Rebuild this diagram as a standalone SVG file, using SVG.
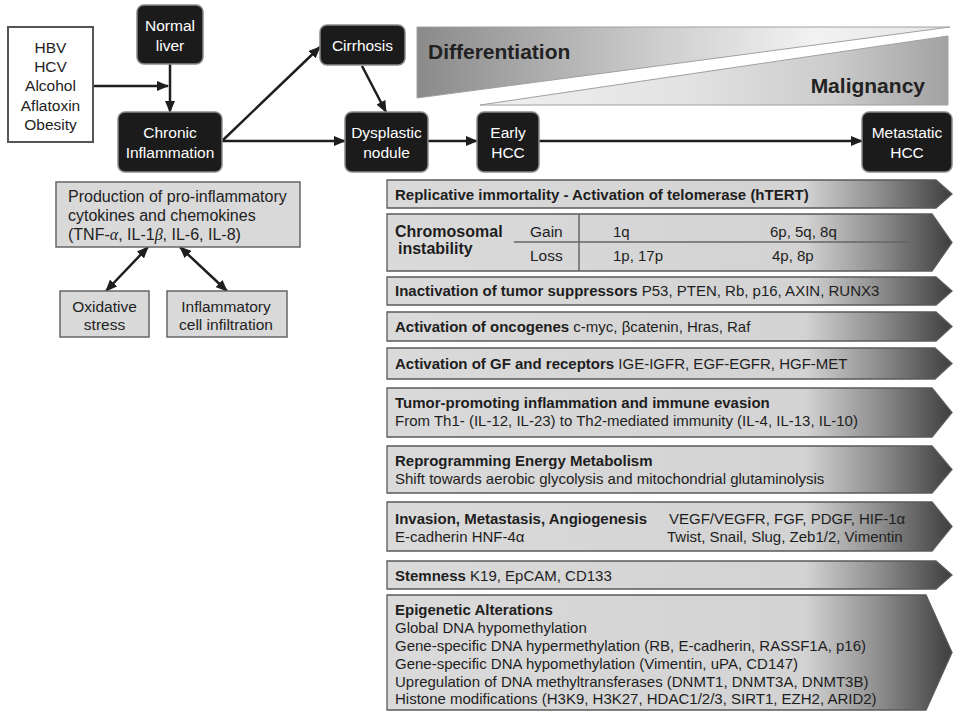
<svg xmlns="http://www.w3.org/2000/svg" width="954" height="713" viewBox="0 0 954 713">
<defs>
<style>
.t{font-family:"Liberation Sans",Arial,sans-serif;}
.node rect.dk{fill:#1b1b1b;stroke:#8a8a8a;stroke-width:1.5;}
.wt{fill:#ffffff;font-size:15.5px;text-anchor:middle;}
.lt{fill:#222;font-size:15.5px;}
.gb{fill:#d9d9d9;stroke:#666;stroke-width:1.5;}
.bar{fill:url(#barg);stroke:#5a5a5a;stroke-width:1.3;}
.bt{fill:#1e1e1e;font-size:15px;}
.b{font-weight:bold;}
.conn line{stroke:#1e1e1e;stroke-width:2.5;fill:none;}
</style>
<marker id="ah" viewBox="0 0 12 10" refX="11" refY="5" markerWidth="12" markerHeight="10" markerUnits="userSpaceOnUse" orient="auto-start-reverse">
<path d="M0,0 L12,5 L0,10 z" fill="#1e1e1e"/>
</marker>
<linearGradient id="barg" gradientUnits="userSpaceOnUse" x1="387" y1="0" x2="952" y2="0">
<stop offset="0" stop-color="#dadada"/>
<stop offset="0.74" stop-color="#d3d3d3"/>
<stop offset="0.87" stop-color="#8e8e8e"/>
<stop offset="1" stop-color="#3e3e3e"/>
</linearGradient>
<linearGradient id="difg" gradientUnits="userSpaceOnUse" x1="417" y1="0" x2="948" y2="0">
<stop offset="0" stop-color="#8a8a8a"/>
<stop offset="0.45" stop-color="#cdcdcd"/>
<stop offset="0.75" stop-color="#f2f2f2"/>
<stop offset="1" stop-color="#e6e6e6"/>
</linearGradient>
<linearGradient id="malg" gradientUnits="userSpaceOnUse" x1="480" y1="0" x2="948" y2="0">
<stop offset="0" stop-color="#f0f0f0"/>
<stop offset="0.45" stop-color="#e2e2e2"/>
<stop offset="0.75" stop-color="#cccccc"/>
<stop offset="1" stop-color="#a2a2a2"/>
</linearGradient>
</defs>
<rect width="954" height="713" fill="#ffffff"/>

<g id="gradients">
<polygon points="417,27 950,27 417,98" fill="url(#difg)" stroke="#a0a0a0" stroke-width="1"/>
<polygon points="480,105 948,36 948,105" fill="url(#malg)" stroke="#a0a0a0" stroke-width="1"/>
<text class="t" x="428" y="59" font-size="21" font-weight="bold" fill="#222">Differentiation</text>
<text class="t" x="925" y="93" font-size="21" font-weight="bold" fill="#222" text-anchor="end">Malignancy</text>
</g>

<g class="conn" id="connectors">
<line x1="94" y1="86" x2="168" y2="86" marker-end="url(#ah)"/>
<line x1="170" y1="64" x2="170" y2="112" marker-end="url(#ah)"/>
<line x1="222" y1="141" x2="320" y2="47" marker-end="url(#ah)"/>
<line x1="222" y1="141" x2="345" y2="141" marker-end="url(#ah)"/>
<line x1="362" y1="66" x2="386" y2="112" marker-end="url(#ah)"/>
<line x1="428" y1="141" x2="477" y2="141" marker-end="url(#ah)"/>
<line x1="539" y1="141" x2="862" y2="141" marker-end="url(#ah)"/>
<line x1="148" y1="247" x2="106" y2="291" marker-start="url(#ah)" marker-end="url(#ah)"/>
<line x1="180" y1="247" x2="227" y2="291" marker-start="url(#ah)" marker-end="url(#ah)"/>
</g>

<g id="causes" class="node">
<rect x="8" y="27" width="85" height="115" fill="#fff" stroke="#555" stroke-width="2"/>
<text class="t lt" text-anchor="middle"><tspan x="50.5" y="53">HBV</tspan><tspan x="50.5" y="72">HCV</tspan><tspan x="50.5" y="91">Alcohol</tspan><tspan x="50.5" y="111">Aflatoxin</tspan><tspan x="50.5" y="130">Obesity</tspan></text>
</g>
<g id="normal-liver" class="node">
<rect class="dk" x="137" y="5" width="66" height="59" rx="7"/>
<text class="t wt"><tspan x="170" y="31">Normal</tspan><tspan x="170" y="51">liver</tspan></text>
</g>
<g id="chronic-inflammation" class="node">
<rect class="dk" x="118" y="112" width="104" height="60" rx="7"/>
<text class="t wt"><tspan x="170" y="138">Chronic</tspan><tspan x="170" y="158">Inflammation</tspan></text>
</g>
<g id="cirrhosis" class="node">
<rect class="dk" x="320" y="25" width="85" height="40" rx="7"/>
<text class="t wt" x="362.5" y="51">Cirrhosis</text>
</g>
<g id="dysplastic-nodule" class="node">
<rect class="dk" x="345" y="112" width="83" height="60" rx="7"/>
<text class="t wt"><tspan x="386.5" y="138">Dysplastic</tspan><tspan x="386.5" y="158">nodule</tspan></text>
</g>
<g id="early-hcc" class="node">
<rect class="dk" x="477" y="112" width="62" height="60" rx="7"/>
<text class="t wt"><tspan x="508" y="138">Early</tspan><tspan x="508" y="158">HCC</tspan></text>
</g>
<g id="metastatic-hcc" class="node">
<rect class="dk" x="862" y="112" width="90" height="60" rx="7"/>
<text class="t wt"><tspan x="907" y="138">Metastatic</tspan><tspan x="907" y="158">HCC</tspan></text>
</g>

<g id="production" class="node">
<rect class="gb" x="56" y="182" width="244" height="65"/>
<text class="t" font-size="16" fill="#222"><tspan x="68" y="202">Production of pro-inflammatory</tspan><tspan x="68" y="221">cytokines and chemokines</tspan><tspan x="68" y="240">(TNF-<tspan font-family="'Liberation Serif',serif" font-style="italic">α</tspan>, IL-1<tspan font-family="'Liberation Serif',serif" font-style="italic">β</tspan>, IL-6, IL-8)</tspan></text>
</g>
<g id="oxidative-stress" class="node">
<rect class="gb" x="60" y="291" width="89" height="46"/>
<text class="t lt" text-anchor="middle"><tspan x="104.5" y="312">Oxidative</tspan><tspan x="104.5" y="330">stress</tspan></text>
</g>
<g id="inflammatory-infiltration" class="node">
<rect class="gb" x="167" y="291" width="120" height="46"/>
<text class="t lt" text-anchor="middle"><tspan x="226" y="312">Inflammatory</tspan><tspan x="226" y="330">cell infiltration</tspan></text>
</g>

<g id="bar-replicative">
<polygon class="bar" points="387,180 936,180 952,194 936,208 387,208"/>
<text class="t bt b" x="395" y="200">Replicative immortality - Activation of telomerase (hTERT)</text>
</g>
<g id="bar-chromosomal">
<polygon class="bar" points="387,214 932,214 952,242.5 932,271 387,271"/>
<line x1="514" y1="242" x2="909" y2="242" stroke="#666" stroke-width="1.5"/>
<line x1="579" y1="214" x2="579" y2="271" stroke="#666" stroke-width="1.5"/>
<text class="t b" font-size="16" fill="#1e1e1e"><tspan x="395" y="237">Chromosomal</tspan><tspan x="398" y="254">instability</tspan></text>
<text class="t" font-size="15.5" fill="#1e1e1e"><tspan x="530" y="237">Gain</tspan><tspan x="530" y="261">Loss</tspan></text>
<text class="t bt"><tspan x="613" y="237">1q</tspan><tspan x="613" y="261">1p, 17p</tspan><tspan x="770" y="237">6p, 5q, 8q</tspan><tspan x="772" y="261">4p, 8p</tspan></text>
</g>
<g id="bar-suppressors">
<polygon class="bar" points="387,277 936,277 952,291 936,305 387,305"/>
<text class="t bt" x="395" y="296"><tspan class="b">Inactivation of tumor suppressors</tspan> P53, PTEN, Rb, p16, AXIN, RUNX3</text>
</g>
<g id="bar-oncogenes">
<polygon class="bar" points="387,312 936,312 952,326.5 936,341 387,341"/>
<text class="t bt" x="395" y="331.5"><tspan class="b">Activation of oncogenes</tspan> c-myc, βcatenin, Hras, Raf</text>
</g>
<g id="bar-gf">
<polygon class="bar" points="387,348 935,348 952,363.5 935,379 387,379"/>
<text class="t bt" x="395" y="369"><tspan class="b">Activation of GF and receptors</tspan> IGE-IGFR, EGF-EGFR, HGF-MET</text>
</g>
<g id="bar-inflammation">
<polygon class="bar" points="387,388 932,388 952,412.5 932,437 387,437"/>
<text class="t bt"><tspan class="b" x="395" y="408">Tumor-promoting inflammation and immune evasion</tspan><tspan x="395" y="426">From Th1- (IL-12, IL-23) to Th2-mediated immunity (IL-4, IL-13, IL-10)</tspan></text>
</g>
<g id="bar-metabolism">
<polygon class="bar" points="387,446 932,446 952,469.5 932,493 387,493"/>
<text class="t bt"><tspan class="b" x="395" y="466">Reprogramming Energy Metabolism</tspan><tspan x="395" y="484">Shift towards aerobic glycolysis and mitochondrial glutaminolysis</tspan></text>
</g>
<g id="bar-invasion">
<polygon class="bar" points="387,502 932,502 952,526.5 932,551 387,551"/>
<text class="t bt"><tspan class="b" x="395" y="524">Invasion, Metastasis, Angiogenesis</tspan><tspan x="395" y="542">E-cadherin HNF-4α</tspan><tspan x="669" y="524">VEGF/VEGFR, FGF, PDGF, HIF-1α</tspan><tspan x="667" y="542">Twist, Snail, Slug, Zeb1/2, Vimentin</tspan></text>
</g>
<g id="bar-stemness">
<polygon class="bar" points="387,561 936,561 952,575 936,589 387,589"/>
<text class="t bt" x="395" y="581"><tspan class="b">Stemness</tspan> K19, EpCAM, CD133</text>
</g>
<g id="bar-epigenetic">
<polygon class="bar" points="387,595 926,595 952,652.5 926,710 387,710"/>
<text class="t bt"><tspan class="b" x="395" y="615">Epigenetic Alterations</tspan><tspan x="395" y="633">Global DNA hypomethylation</tspan><tspan x="395" y="651">Gene-specific DNA hypermethylation (RB, E-cadherin, RASSF1A, p16)</tspan><tspan x="395" y="669">Gene-specific DNA hypomethylation (Vimentin, uPA, CD147)</tspan><tspan x="395" y="687">Upregulation of DNA methyltransferases (DNMT1, DNMT3A, DNMT3B)</tspan><tspan x="395" y="704">Histone modifications (H3K9, H3K27, HDAC1/2/3, SIRT1, EZH2, ARID2)</tspan></text>
</g>
</svg>
